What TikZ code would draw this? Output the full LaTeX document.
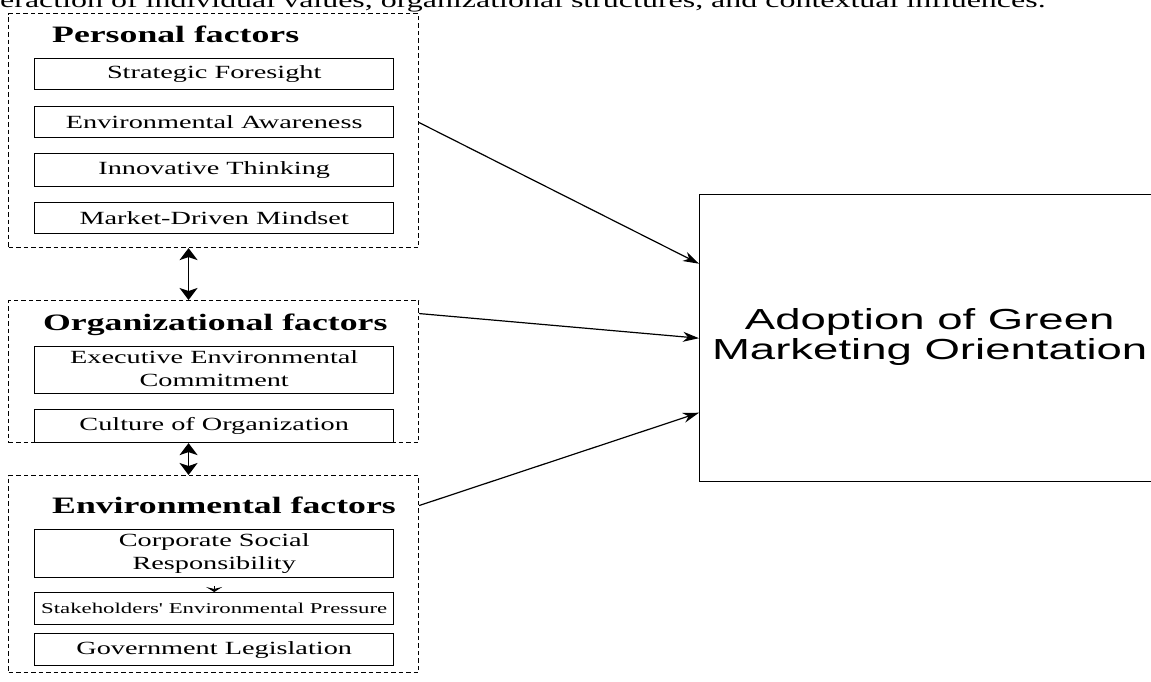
\documentclass[tikz,border=0pt]{standalone}
\usepackage{fontspec}
\usepackage{graphicx}
\setmainfont{Liberation Serif}
\newfontfamily\arialf{Liberation Sans}
\usetikzlibrary{arrows.meta,calc}
\newcommand{\wx}[2][1.52]{\scalebox{#1}[1]{#2}}
\newcommand{\twolines}[2]{\begin{tabular}{@{}c@{}}#1\\#2\end{tabular}}
\begin{document}
\begin{tikzpicture}[x=1pt,y=-1pt,
  grp/.style={draw, dash pattern=on 4.5pt off 3pt, line width=1.1pt, inner sep=0pt, anchor=north west, minimum width=410pt},
  itembox/.style={draw, line width=1.4pt, inner sep=0pt, anchor=north west, minimum width=359pt, font=\fontsize{18.6}{23}\selectfont},
  head/.style={anchor=base west, inner sep=0pt, font=\fontsize{23.5}{28}\selectfont\bfseries},
  arr/.style={-{Stealth[length=16pt,width=10pt,inset=5pt]}, line width=1.2pt},
  darr/.style={{Stealth[length=12pt,width=18pt,inset=3pt]}-{Stealth[length=12pt,width=18pt,inset=3pt]}, line width=1.6pt}
]
\useasboundingbox (0,0) rectangle (1151,681);
\clip (0,0) rectangle (1151,681);

% top caption (cut off by the page edge, as in the reference)
\node[anchor=base west, inner sep=0pt, font=\fontsize{21.3}{25}\selectfont] (cap) at (0,7.5)
  {\wx[1.5]{eraction of individual values, organizational structures, and contextual influences.}};

% group frames
\node[grp, minimum height=234pt] (pers) at (8,13) {};
\node[grp, minimum height=142pt] (org) at (8,300) {};
\node[grp, minimum height=197pt] (env) at (8,475) {};

% headings
\node[head] (hp) at (52,42) {\wx{Personal factors}};
\node[head] (ho) at (43,330) {\wx{Organizational factors}};
\node[head] (he) at (52,513) {\wx{Environmental factors}};

% personal items
\node[itembox, minimum height=31pt] (sf) at (34,58) {\wx{Strategic Foresight}};
\node[itembox, minimum height=31pt] (ea) at (34,106) {\wx{Environmental Awareness}};
\node[itembox, minimum height=33pt] (it) at (34,153) {\wx{Innovative Thinking}};
\node[itembox, minimum height=31pt] (md) at (34,202) {\wx{Market-Driven Mindset}};

% organizational items
\node[itembox, minimum height=47pt] (ex) at (34,346) {\wx{\twolines{Executive Environmental}{Commitment}}};
\node[itembox, minimum height=33pt] (cu) at (34,409) {\wx{Culture of Organization}};

% environmental items
\node[itembox, minimum height=48pt] (csr) at (34,529) {\wx{\twolines{Corporate Social}{Responsibility}}};
\node[itembox, minimum height=32pt, font=\fontsize{15}{18}\selectfont] (st) at (34,592) {\wx{Stakeholders\textquotesingle{} Environmental Pressure}};
\node[itembox, minimum height=32pt] (gl) at (34,633) {\wx{Government Legislation}};

% outcome
\node[draw, line width=1.4pt, anchor=north west, minimum width=460pt, minimum height=287pt, inner sep=0pt,
      font=\arialf\fontsize{29}{30}\selectfont] (big) at (699,194)
  {\wx[1.57]{\twolines{Adoption of Green}{Marketing Orientation}}};

% connectors
\draw[arr] ([yshift=8pt]pers.east) -- ([yshift=74.5pt]big.west);
\draw[arr] ([yshift=58pt]org.east) -- (big.west);
\draw[arr] ([yshift=68.5pt]env.east) -- ([yshift=-74.5pt]big.west);

\draw[darr] ([xshift=-25pt]pers.south) -- ([xshift=-25pt]org.north);
\draw[darr] ([xshift=-25pt]org.south) -- ([xshift=-25pt]env.north);

\draw[-{Stealth[length=5pt,width=16pt,inset=2pt]}, line width=0.9pt] ([yshift=-8pt]csr.south) -- (st.north);
\end{tikzpicture}
\end{document}
